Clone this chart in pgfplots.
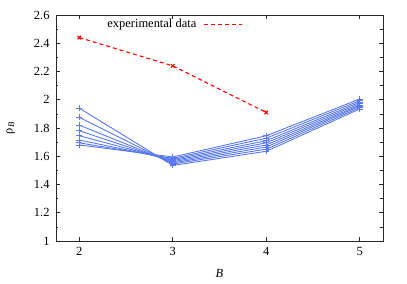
\documentclass[border=0pt]{standalone}
\usepackage{fontspec}
\setmainfont{Liberation Serif}
\usepackage{pgfplots}
\pgfplotsset{compat=1.18}
\definecolor{bl}{RGB}{88,120,240}
\definecolor{ax}{RGB}{40,40,40}
\tikzset{bline/.style={bl, solid, line width=0.9pt, mark=+, mark size=3bp, mark options={solid, line width=0.7pt}}}
\begin{document}
\begin{tikzpicture}
\useasboundingbox (-56bp,-43bp) rectangle (351bp,241bp);
\begin{axis}[
  scale only axis, width=327bp, height=226bp,
  xmin=1.75, xmax=5.25, ymin=1, ymax=2.6,
  xtick={2,3,4,5}, ytick={1,1.2,...,2.6},
  minor ytick={1.1,1.3,...,2.5},
  yticklabels={1,1.2,1.4,1.6,1.8,2,2.2,2.4,2.6},
  tick align=inside, axis line style={ax, line width=0.8pt},
  major tick length=4bp, minor tick length=2.5bp,
  tick style={ax, line width=0.6pt},
  /pgf/number format/assume math mode=true,
  tick label style={font=\fontsize{12.5}{14}\selectfont},
  xticklabel style={yshift=-3bp},
  yticklabel style={xshift=-3bp},
  label style={font=\fontsize{12.5}{14}\selectfont},
  xlabel={\textit{B}},
  ylabel={ρ\textsubscript{\textit{B}}},
  xlabel style={yshift=-7bp},
  ylabel style={yshift=12bp},
  legend style={draw=none, fill=none, at={(axis description cs:0.575,0.995)}, anchor=north east, font=\fontsize{12.5}{14}\selectfont, inner sep=1bp},
  legend plot pos=right,
  legend image code/.code={\path[draw=none, fill=none] (0bp,0bp) -- (1bp,0bp); \draw[#1, mark=none] (6bp,0bp) -- (44bp,0bp);},
]
\addplot[red, line width=1.1pt, dash pattern=on 4bp off 3bp, mark=x, mark size=2.5bp, mark options={solid, line width=1.1pt}] coordinates {(2,2.44) (3,2.24) (4,1.91)};
\addlegendentry{experimental data}
\addplot[bline, forget plot] coordinates {(2,1.94) (3,1.535) (4,1.635) (5,1.935)};
\addplot[bline, forget plot] coordinates {(2,1.875) (3,1.545) (4,1.65) (5,1.945)};
\addplot[bline, forget plot] coordinates {(2,1.82) (3,1.553) (4,1.665) (5,1.955)};
\addplot[bline, forget plot] coordinates {(2,1.78) (3,1.561) (4,1.68) (5,1.962)};
\addplot[bline, forget plot] coordinates {(2,1.745) (3,1.569) (4,1.695) (5,1.972)};
\addplot[bline, forget plot] coordinates {(2,1.715) (3,1.577) (4,1.71) (5,1.982)};
\addplot[bline, forget plot] coordinates {(2,1.695) (3,1.585) (4,1.728) (5,1.993)};
\addplot[bline, forget plot] coordinates {(2,1.68) (3,1.595) (4,1.745) (5,2.005)};
\end{axis}
\end{tikzpicture}
\end{document}
